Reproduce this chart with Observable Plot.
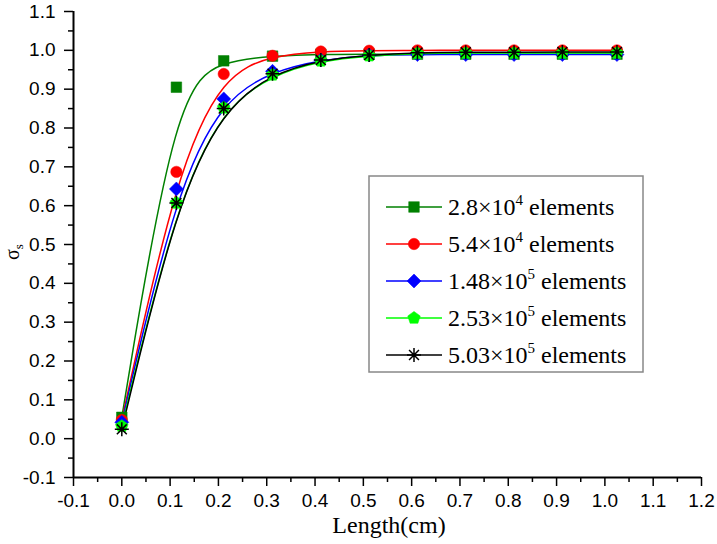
<!DOCTYPE html>
<html><head><meta charset="utf-8">
<script src="https://cdn.jsdelivr.net/npm/d3@7"></script>
<script src="https://cdn.jsdelivr.net/npm/@observablehq/plot@0.6"></script>
<style>body{margin:0;background:#fff} #chart{width:717px;height:544px}</style>
</head><body><div id="chart"></div>
<script>
// ---- data ----
const lengths = [0, 0.113, 0.211, 0.312, 0.412, 0.512, 0.612, 0.712, 0.812, 0.912, 1.025];
const sigma_28e4  = [0.055, 0.905, 0.973, 0.985, 0.990, 0.990, 0.990, 0.990, 0.990, 0.990, 0.990];
const sigma_54e4  = [0.048, 0.687, 0.939, 0.986, 0.997, 0.999, 1.000, 1.000, 1.000, 1.000, 1.000];
const sigma_148e5 = [0.042, 0.643, 0.875, 0.946, 0.975, 0.988, 0.989, 0.989, 0.989, 0.989, 0.989];
const sigma_253e5 = [0.032, 0.607, 0.852, 0.937, 0.973, 0.986, 0.992, 0.993, 0.993, 0.993, 0.993];
const sigma_503e5 = [0.024, 0.607, 0.850, 0.940, 0.975, 0.988, 0.994, 0.995, 0.995, 0.996, 0.996];
const legendMantissa = ["2.8", "5.4", "1.48", "2.53", "5.03"];
const legendExponent = ["4", "4", "5", "5", "5"];
const seriesColors = ["#008000", "#ff0000", "#0000ff", "#00ff00", "#000000"];
const xTicks = [-0.1, 0.0, 0.1, 0.2, 0.3, 0.4, 0.5, 0.6, 0.7, 0.8, 0.9, 1.0, 1.1, 1.2];
const yTicks = [-0.1, 0.0, 0.1, 0.2, 0.3, 0.4, 0.5, 0.6, 0.7, 0.8, 0.9, 1.0, 1.1];
const xLabel = "Length(cm)";

// ---- symbols ----
const symSquare = {draw(c){const h=5.3; c.moveTo(-h,-h); c.lineTo(h,-h); c.lineTo(h,h); c.lineTo(-h,h); c.closePath();}};
const symCircle = {draw(c){const r=5.7; c.moveTo(r,0); c.arc(0,0,r,0,2*Math.PI); c.closePath();}};
const symDiamond = {draw(c){const h=7; c.moveTo(0,-h); c.lineTo(h,0); c.lineTo(0,h); c.lineTo(-h,0); c.closePath();}};
const symPentagon = {draw(c){const r=6.6; for(let i=0;i<5;i++){const a=-Math.PI/2+i*2*Math.PI/5; const x=r*Math.cos(a), y=r*Math.sin(a); if(i) c.lineTo(x,y); else c.moveTo(x,y);} c.closePath();}};
const symAsterisk = {draw(c){const r=7; for(let i=0;i<4;i++){const a=i*Math.PI/4; c.moveTo(r*Math.cos(a),r*Math.sin(a)); c.lineTo(-r*Math.cos(a),-r*Math.sin(a));}}};
const symbols = [symSquare, symCircle, symDiamond, symPentagon, symAsterisk];

const seriesValues = [sigma_28e4, sigma_54e4, sigma_148e5, sigma_253e5, sigma_503e5];
const tables = seriesValues.map(vals => lengths.map((x, i) => ({x, y: vals[i]})));

const mid = a => a.slice(0, -1).map((v, i) => (v + a[i + 1]) / 2);
const xMinor = mid(xTicks), yMinor = mid(yTicks);

const lineMarks = tables.map((t, i) => Plot.line(t, {x: "x", y: "y", curve: "basis", stroke: seriesColors[i], strokeWidth: 1.5}));
const dotMarks = tables.map((t, i) => Plot.dot(t, {
  x: "x", y: "y", symbol: symbols[i],
  fill: i === 4 ? "none" : seriesColors[i],
  stroke: seriesColors[i], strokeWidth: i === 4 ? 1.5 : 0.5
}));

const chart = Plot.plot({
  width: 717, height: 544,
  marginLeft: 73, marginRight: 16, marginTop: 11, marginBottom: 67,
  x: {domain: [-0.1, 1.2]},
  y: {domain: [-0.1, 1.1]},
  style: {fontFamily: "'Liberation Sans', Arial, sans-serif", fontSize: "19px", color: "#000", background: "#fff", overflow: "visible"},
  marks: [
    Plot.axisX({ticks: xTicks, tickSize: 9, tickPadding: 7, tickFormat: d => d.toFixed(1), label: null, strokeWidth: 1.5, fontSize: 19}),
    Plot.axisX({ticks: xMinor, tickSize: 5, text: null, label: null, strokeWidth: 1.5}),
    Plot.axisY({ticks: yTicks, tickSize: 9, tickPadding: 9, tickFormat: d => d.toFixed(1), label: null, strokeWidth: 1.5, fontSize: 19}),
    Plot.axisY({ticks: yMinor, tickSize: 5, text: null, label: null, strokeWidth: 1.5}),
    Plot.ruleY([-0.1], {strokeWidth: 2}),
    Plot.ruleX([-0.1], {strokeWidth: 2}),
    ...lineMarks,
    ...dotMarks
  ]
});
document.getElementById("chart").appendChild(chart);

// ---- labels and legend ----
const svg = d3.select(chart);
const serif = "'Liberation Serif', 'Times New Roman', serif";
svg.append("text").attr("x", 389).attr("y", 533).attr("text-anchor", "middle")
  .attr("font-family", serif).attr("font-size", 24).attr("fill", "#000").text(xLabel);
const yl = svg.append("text").attr("transform", "translate(19,252) rotate(-90)")
  .attr("text-anchor", "middle").attr("font-family", serif).attr("font-size", 20).attr("fill", "#000");
yl.append("tspan").text("σ");
yl.append("tspan").attr("dy", 4).attr("font-size", 13).text("s");

const lg = svg.append("g").attr("text-anchor", "start");
lg.append("rect").attr("x", 369).attr("y", 176).attr("width", 274).attr("height", 196)
  .attr("fill", "#fff").attr("stroke", "#888").attr("stroke-width", 1.5);
legendMantissa.forEach((m, i) => {
  const cy = 207 + i * 37;
  lg.append("line").attr("x1", 386).attr("x2", 442).attr("y1", cy).attr("y2", cy)
    .attr("stroke", seriesColors[i]).attr("stroke-width", 1.5);
  lg.append("path").attr("transform", `translate(414,${cy})`)
    .attr("d", d3.symbol(symbols[i])())
    .attr("fill", i === 4 ? "none" : seriesColors[i]).attr("stroke", seriesColors[i])
    .attr("stroke-width", i === 4 ? 1.5 : 0.5);
  const t = lg.append("text").attr("x", 448).attr("y", cy + 8).attr("text-anchor", "start")
    .attr("font-family", serif).attr("font-size", 24).attr("fill", "#000");
  t.append("tspan").text(m + "×10");
  t.append("tspan").attr("dy", -10).attr("font-size", 15).text(legendExponent[i]);
  t.append("tspan").attr("dy", 10).text(" elements");
});
</script>
</body></html>
